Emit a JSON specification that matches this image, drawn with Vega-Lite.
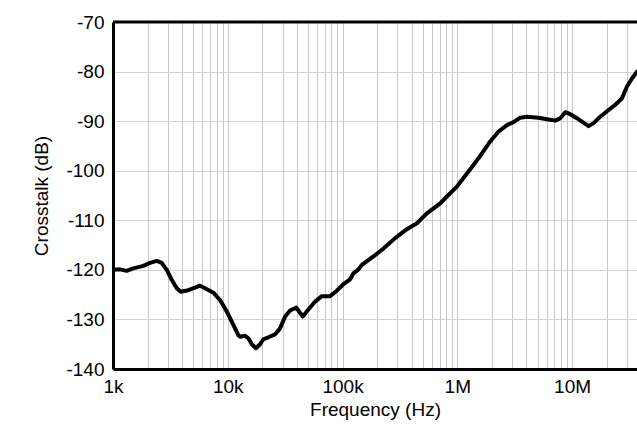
{
  "$schema": "https://vega.github.io/schema/vega-lite/v6.json",
  "width": 524,
  "height": 347,
  "autosize": {"type": "none"},
  "padding": {"left": 113, "top": 22, "right": 0, "bottom": 55},
  "background": "white",
  "config": {
    "view": {"stroke": null},
    "font": "Liberation Sans",
    "axis": {"labelFont": "Liberation Sans", "titleFont": "Liberation Sans", "labelColor": "black", "titleColor": "black", "titleFontWeight": "normal"}
  },
  "datasets": {
    "crosstalk": [
      {"freq": 1000, "db": -120.0},
      {"freq": 1151, "db": -119.9},
      {"freq": 1316, "db": -120.2},
      {"freq": 1503, "db": -119.7},
      {"freq": 1837, "db": -119.2},
      {"freq": 2102, "db": -118.6},
      {"freq": 2404, "db": -118.2},
      {"freq": 2658, "db": -118.6},
      {"freq": 2938, "db": -120.0},
      {"freq": 3249, "db": -122.0},
      {"freq": 3593, "db": -123.7},
      {"freq": 3892, "db": -124.4},
      {"freq": 4534, "db": -124.1},
      {"freq": 5188, "db": -123.6},
      {"freq": 5734, "db": -123.2},
      {"freq": 6340, "db": -123.7},
      {"freq": 7489, "db": -124.6},
      {"freq": 8570, "db": -126.1},
      {"freq": 9802, "db": -128.4},
      {"freq": 11190, "db": -131.1},
      {"freq": 12373, "db": -133.2},
      {"freq": 12804, "db": -133.5},
      {"freq": 14155, "db": -133.3},
      {"freq": 15118, "db": -133.8},
      {"freq": 16192, "db": -135.0},
      {"freq": 17654, "db": -135.8},
      {"freq": 19118, "db": -135.0},
      {"freq": 20430, "db": -134.0},
      {"freq": 22594, "db": -133.6},
      {"freq": 25846, "db": -133.0},
      {"freq": 28576, "db": -131.8},
      {"freq": 31594, "db": -129.4},
      {"freq": 34933, "db": -128.2},
      {"freq": 39395, "db": -127.6},
      {"freq": 45077, "db": -129.4},
      {"freq": 50431, "db": -128.0},
      {"freq": 57690, "db": -126.4},
      {"freq": 65993, "db": -125.3},
      {"freq": 77970, "db": -125.3},
      {"freq": 89190, "db": -124.2},
      {"freq": 101800, "db": -122.9},
      {"freq": 116500, "db": -121.9},
      {"freq": 124500, "db": -120.7},
      {"freq": 137600, "db": -119.9},
      {"freq": 147300, "db": -119.0},
      {"freq": 186000, "db": -117.3},
      {"freq": 227300, "db": -115.7},
      {"freq": 287400, "db": -113.6},
      {"freq": 363500, "db": -111.8},
      {"freq": 444500, "db": -110.6},
      {"freq": 543300, "db": -108.6},
      {"freq": 709600, "db": -106.6},
      {"freq": 811600, "db": -105.2},
      {"freq": 992000, "db": -103.2},
      {"freq": 1296000, "db": -99.7},
      {"freq": 1530000, "db": -97.5},
      {"freq": 1936000, "db": -94.1},
      {"freq": 2287000, "db": -92.1},
      {"freq": 2706000, "db": -90.8},
      {"freq": 3090000, "db": -90.2},
      {"freq": 3535000, "db": -89.3},
      {"freq": 4045000, "db": -89.1},
      {"freq": 5105000, "db": -89.3},
      {"freq": 6042000, "db": -89.6},
      {"freq": 7137000, "db": -89.9},
      {"freq": 7893000, "db": -89.4},
      {"freq": 8724000, "db": -88.2},
      {"freq": 9646000, "db": -88.6},
      {"freq": 11030000, "db": -89.4},
      {"freq": 12200000, "db": -90.1},
      {"freq": 13930000, "db": -91.0},
      {"freq": 15400000, "db": -90.4},
      {"freq": 17620000, "db": -89.1},
      {"freq": 20160000, "db": -88.0},
      {"freq": 23810000, "db": -86.7},
      {"freq": 27230000, "db": -85.4},
      {"freq": 30110000, "db": -83.0},
      {"freq": 33290000, "db": -81.4},
      {"freq": 36800000, "db": -80.0}
    ],
    "border": [{"level": -70}]
  },
  "layer": [
    {
      "data": {"name": "crosstalk"},
      "mark": {"type": "line", "color": "black", "strokeWidth": 4, "strokeJoin": "round", "strokeCap": "round", "clip": true},
      "encoding": {
        "x": {
          "field": "freq",
          "type": "quantitative",
          "scale": {"type": "log", "domain": [1000, 36800000], "nice": false},
          "axis": {
            "title": "Frequency (Hz)",
            "titleFontSize": 19,
            "titlePadding": 4,
            "labelFontSize": 19,
            "labelPadding": 8,
            "ticks": false,
            "domainColor": "black",
            "domainWidth": 3,
            "grid": true,
            "gridColor": "#c8c8c8",
            "gridWidth": 1,
            "labelFlush": false,
            "labelOverlap": false,
            "values": [1000, 2000, 3000, 4000, 5000, 6000, 7000, 8000, 9000, 10000, 20000, 30000, 40000, 50000, 60000, 70000, 80000, 90000, 100000, 200000, 300000, 400000, 500000, 600000, 700000, 800000, 900000, 1000000, 2000000, 3000000, 4000000, 5000000, 6000000, 7000000, 8000000, 9000000, 10000000, 20000000, 30000000],
            "labelExpr": "indexof([1000, 10000, 100000, 1000000, 10000000], datum.value) >= 0 ? format(datum.value, '~s') : ''"
          }
        },
        "y": {
          "field": "db",
          "type": "quantitative",
          "scale": {"domain": [-140, -70], "nice": false, "zero": false},
          "axis": {
            "title": "Crosstalk (dB)",
            "titleFontSize": 19,
            "titlePadding": 14,
            "labelFontSize": 19,
            "labelPadding": 9,
            "ticks": false,
            "domainColor": "black",
            "domainWidth": 3,
            "grid": true,
            "gridColor": "#d4d4d4",
            "gridWidth": 1,
            "values": [-140, -130, -120, -110, -100, -90, -80, -70],
            "labelExpr": "datum.value < 0 ? '-' + (-datum.value) : '' + datum.value"
          }
        }
      }
    },
    {
      "data": {"name": "border"},
      "mark": {"type": "rule", "color": "black", "strokeWidth": 3},
      "encoding": {"y": {"field": "level", "type": "quantitative"}}
    }
  ]
}
